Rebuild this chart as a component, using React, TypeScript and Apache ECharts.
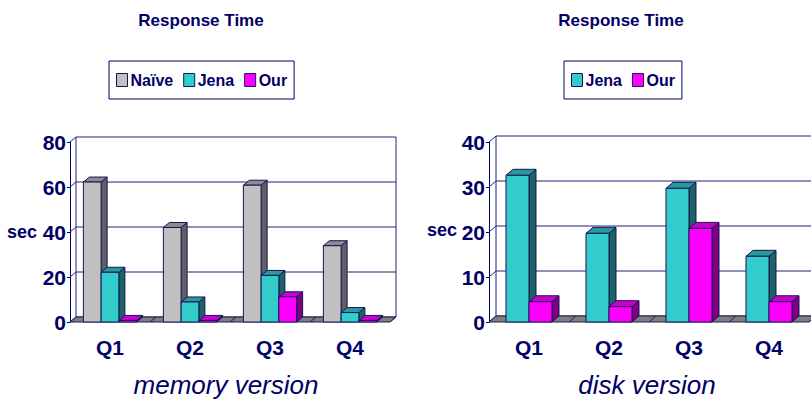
import React, { useEffect, useRef } from "react";
import * as echarts from "echarts";

const categories = ["Q1", "Q2", "Q3", "Q4"];
const memNaive = [62.2, 42, 60.8, 33.9];
const memJena = [22.1, 8.9, 20.7, 4.2];
const memOur = [0.7, 0.7, 11.2, 0.7];
const diskJena = [32.6, 19.7, 29.7, 14.6];
const diskOur = [4.5, 3.4, 20.8, 4.5];
const memTicks = [0, 20, 40, 60, 80];
const diskTicks = [0, 10, 20, 30, 40];

const NAVY = "#000066";
const FONT = "'Liberation Sans', Arial, sans-serif";

const COLORS = {
  naive: { front: "#c0c0c0", top: "#8c8c8c", side: "#5f5f5f" },
  jena: { front: "#33cccc", top: "#2a9999", side: "#1b6464" },
  our: { front: "#ff00ff", top: "#cc00cc", side: "#800080" },
};

function frameRender(ticks: number[], max: number, dx: number, dy: number) {
  return (params: any, api: any) => {
    const n = categories.length;
    const bw = api.size([1, 0])[0];
    const c0 = api.coord([0, 0]);
    const cn = api.coord([n - 1, 0]);
    const xL = c0[0] - bw / 2;
    const xR = cn[0] + bw / 2;
    const y0 = c0[1];
    const yTop = api.coord([0, max])[1];
    const stroke = "#23237a";
    const children: any[] = [];
    ticks.forEach((v) => {
      const y = api.coord([0, v])[1];
      children.push({
        type: "line",
        shape: { x1: xL + dx, y1: y + dy, x2: xR + dx, y2: y + dy },
        style: { stroke, lineWidth: 1 },
      });
      children.push({
        type: "line",
        shape: { x1: xL, y1: y, x2: xL + dx, y2: y + dy },
        style: { stroke, lineWidth: 1 },
      });
    });
    children.push({
      type: "line",
      shape: { x1: xL + dx, y1: y0 + dy, x2: xL + dx, y2: yTop + dy },
      style: { stroke, lineWidth: 1 },
    });
    children.push({
      type: "line",
      shape: { x1: xR + dx, y1: y0 + dy, x2: xR + dx, y2: yTop + dy },
      style: { stroke, lineWidth: 1 },
    });
    children.push({
      type: "polygon",
      shape: {
        points: [
          [xL, y0],
          [xR, y0],
          [xR + dx, y0 + dy],
          [xL + dx, y0 + dy],
        ],
      },
      style: { fill: "#808080", stroke: "#1a1a55", lineWidth: 1 },
    });
    for (let i = 1; i <= n; i++) {
      const x = xL + i * bw;
      children.push({
        type: "line",
        shape: { x1: x, y1: y0, x2: x + dx, y2: y0 + dy },
        style: { stroke: "#1a1a55", lineWidth: 1 },
      });
    }
    return { type: "group", children };
  };
}

function barRender(i: number, n: number, frac: number, dx: number, dy: number, c: any) {
  return (params: any, api: any) => {
    const idx = api.value(0);
    const v = api.value(1);
    const base = api.coord([idx, 0]);
    const top = api.coord([idx, v]);
    const bw = api.size([1, 0])[0];
    const w = bw * frac;
    const x0 = base[0] - (n * w) / 2 + i * w;
    const y0 = base[1];
    const y1 = top[1];
    const st = { stroke: "#14145a", lineWidth: 1 };
    return {
      type: "group",
      children: [
        {
          type: "polygon",
          shape: {
            points: [
              [x0 + w, y1],
              [x0 + w, y0],
              [x0 + w + dx, y0 + dy],
              [x0 + w + dx, y1 + dy],
            ],
          },
          style: { fill: c.side, ...st },
        },
        {
          type: "polygon",
          shape: {
            points: [
              [x0, y1],
              [x0 + w, y1],
              [x0 + w + dx, y1 + dy],
              [x0 + dx, y1 + dy],
            ],
          },
          style: { fill: c.top, ...st },
        },
        {
          type: "rect",
          shape: { x: x0, y: y1, width: w, height: y0 - y1 },
          style: { fill: c.front, ...st },
        },
      ],
    };
  };
}

function toData(arr: number[]) {
  return arr.map((v, i) => [i, v]);
}

function textEl(text: string, x: number, y: number, font: string) {
  return {
    type: "text",
    x,
    y,
    style: {
      text,
      font,
      fill: NAVY,
      align: "center",
      verticalAlign: "middle",
      textAlign: "center",
      textVerticalAlign: "middle",
    },
  };
}

export default function App() {
  const ref = useRef<HTMLDivElement>(null);
  useEffect(() => {
    if (!ref.current) return;
    const chart = echarts.init(ref.current, null, { renderer: "svg" });
    const L = { dx: 6, dy: -5 };
    const R = { dx: 7, dy: -6 };
    const mkBar = (name: string, data: number[], g: number, i: number, n: number, frac: number, d: any, c: any) => ({
      type: "custom",
      name,
      xAxisIndex: g,
      yAxisIndex: g,
      data: toData(data),
      encode: { x: 0, y: 1 },
      itemStyle: { color: c.front, borderColor: "#14145a", borderWidth: 1 },
      renderItem: barRender(i, n, frac, d.dx, d.dy, c),
      z: 3,
    });
    const axisLabel = { color: NAVY, fontSize: 21, fontWeight: "bold", fontFamily: FONT };
    const legendBase = {
      orient: "horizontal",
      top: 61,
      icon: "rect",
      itemWidth: 11,
      itemHeight: 13,
      itemGap: 10,
      padding: [11, 7],
      borderColor: NAVY,
      borderWidth: 1,
      backgroundColor: "#fff",
      itemStyle: { borderColor: "#14145a", borderWidth: 1 },
      textStyle: { color: NAVY, fontSize: 16, fontWeight: "bold", fontFamily: FONT, padding: [0, 0, 0, -2] },
    };
    chart.setOption({
      animation: false,
      backgroundColor: "#fff",
      legend: [
        { ...legendBase, left: 109, data: ["Naïve", "Jena", "Our"] },
        { ...legendBase, left: 564, data: ["Jena", "Our"] },
      ],
      grid: [
        { left: 70, top: 142, width: 320, height: 180 },
        { left: 489, top: 142, width: 320, height: 180 },
      ],
      xAxis: [0, 1].map((g) => ({
        type: "category",
        gridIndex: g,
        data: categories,
        axisLine: { show: false },
        axisTick: { show: false },
        axisLabel: { ...axisLabel, margin: 15 },
      })),
      yAxis: [
        { max: 80, interval: 20 },
        { max: 40, interval: 10 },
      ].map((a, g) => ({
        type: "value",
        gridIndex: g,
        min: 0,
        max: a.max,
        interval: a.interval,
        axisLine: { show: true, lineStyle: { color: NAVY, width: 1 } },
        axisTick: { show: true, length: 3, lineStyle: { color: NAVY } },
        axisLabel: { ...axisLabel, margin: 4 },
        splitLine: { show: false },
      })),
      series: [
        {
          type: "custom",
          xAxisIndex: 0,
          yAxisIndex: 0,
          data: [[0, 0]],
          encode: { x: 0, y: 1 },
          renderItem: frameRender(memTicks, 80, L.dx, L.dy),
          z: 1,
          silent: true,
        },
        {
          type: "custom",
          xAxisIndex: 1,
          yAxisIndex: 1,
          data: [[0, 0]],
          encode: { x: 0, y: 1 },
          renderItem: frameRender(diskTicks, 40, R.dx, R.dy),
          z: 1,
          silent: true,
        },
        mkBar("Naïve", memNaive, 0, 0, 3, 0.222, L, COLORS.naive),
        mkBar("Jena", memJena, 0, 1, 3, 0.222, L, COLORS.jena),
        mkBar("Our", memOur, 0, 2, 3, 0.222, L, COLORS.our),
        mkBar("Jena", diskJena, 1, 0, 2, 0.2875, R, COLORS.jena),
        mkBar("Our", diskOur, 1, 1, 2, 0.2875, R, COLORS.our),
      ],
      graphic: [
        textEl("Response Time", 201, 20, `bold 17px ${FONT}`),
        textEl("Response Time", 621, 20, `bold 17px ${FONT}`),
        textEl("sec", 22, 232, `bold 18px ${FONT}`),
        textEl("sec", 442, 230, `bold 18px ${FONT}`),
        textEl("memory version", 226, 385, `italic 26px ${FONT}`),
        textEl("disk version", 647, 385, `italic 26px ${FONT}`),
      ],
    });
    return () => chart.dispose();
  }, []);
  return <div ref={ref} style={{ width: 811, height: 401, position: "absolute", left: 0, top: 0 }} />;
}
